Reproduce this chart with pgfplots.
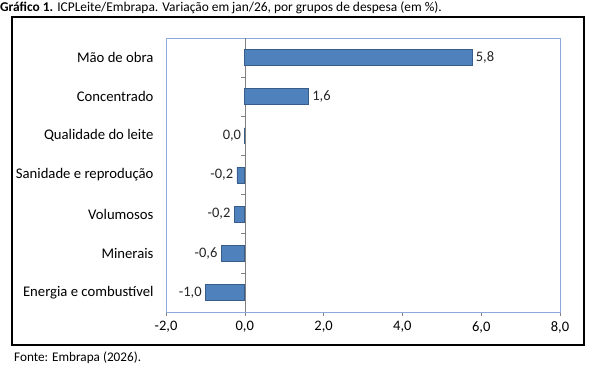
\documentclass[border=0pt]{standalone}
\usepackage{pgfplots}
\pgfplotsset{compat=1.18}
\usepackage{pgfplotstable}
\usepackage{fontspec}
\setmainfont{Carlito}
\definecolor{barfill}{HTML}{4F81BD}
\definecolor{barline}{HTML}{385D8A}
\definecolor{boxblue}{HTML}{8EAADB}
\pgfplotstableread{
y v lab
6 5.77 5,8
5 1.62 1,6
}\postab
\pgfplotstableread{
y v lab
4 0.00 0,0
3 -0.20 -0,2
2 -0.27 -0,2
1 -0.60 -0,6
0 -1.00 -1,0
}\negtab
\begin{document}
\begin{tikzpicture}
\path (0bp,0bp) rectangle (592bp,367bp);
\node[anchor=west, inner sep=0pt, font=\fontsize{13.4bp}{15bp}\selectfont] at (0bp,359bp) {\textbf{Gráfico 1.} ICPLeite/Embrapa. Variação em jan/26, por grupos de despesa (em \%).};
\draw[line width=2.5bp] (12bp,22bp) rectangle (584bp,350bp);
\node[anchor=west, inner sep=0pt, font=\fontsize{13.2bp}{15bp}\selectfont] at (14bp,9.5bp) {Fonte: Embrapa (2026).};
\begin{axis}[
  at={(166bp,55bp)}, anchor=south west,
  scale only axis, width=394bp, height=274bp,
  xbar, bar width=16bp, bar shift=0pt,
  xmin=-2, xmax=8, ymin=-0.5, ymax=6.5,
  axis line style={draw=boxblue, line width=0.8bp},
  xtick={-2,0,2,4,6,8},
  xtick pos=left, tick align=outside,
  major tick length=4bp,
  xtick style={draw=gray, line width=0.6bp},
  /pgf/number format/assume math mode=true,
  xticklabel={\pgfmathprintnumber[fixed,fixed zerofill,precision=1,use comma]{\tick}},
  xticklabel style={font=\fontsize{14.5bp}{16bp}\selectfont, yshift=-2bp},
  ytick={0,1,2,3,4,5,6},
  yticklabels={Energia e combustível, Minerais, Volumosos, Sanidade e reprodução, Qualidade do leite, Concentrado, Mão de obra},
  ytick style={draw=none},
  yticklabel style={font=\fontsize{14.7bp}{16bp}\selectfont, xshift=-5bp},
  point meta=explicit symbolic,
  nodes near coords,
  clip=false,
]
\draw[gray, line width=0.6bp] (axis cs:0,-0.5) -- (axis cs:0,6.5);
\pgfplotsinvokeforeach{0.5,1.5,2.5,3.5,4.5,5.5}{
  \draw[gray, line width=0.6bp] (axis cs:0,#1) -- ++(-4bp,0bp);
}
\addplot[fill=barfill, draw=barline, line width=0.8bp,
  nodes near coords style={anchor=west, font=\fontsize{14.5bp}{16bp}\selectfont, text=black!85}]
  table[x=v, y=y, meta=lab] {\postab};
\addplot[fill=barfill, draw=barline, line width=0.8bp,
  nodes near coords style={anchor=east, font=\fontsize{14.5bp}{16bp}\selectfont, text=black!85}]
  table[x=v, y=y, meta=lab] {\negtab};
\end{axis}
\end{tikzpicture}
\end{document}
